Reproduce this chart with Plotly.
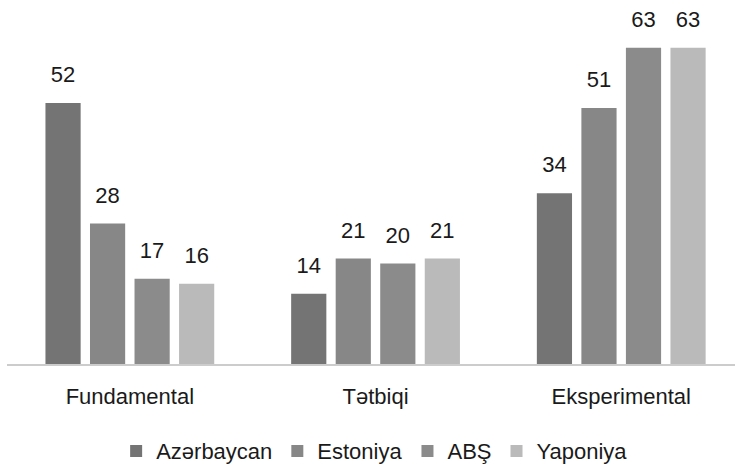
import plotly.graph_objects as go

categories = ["Fundamental", "Tətbiqi", "Eksperimental"]
series_names = ["Azərbaycan", "Estoniya", "ABŞ", "Yaponiya"]
azerbaycan = [52, 14, 34]
estoniya = [28, 21, 51]
abs_vals = [17, 20, 63]
yaponiya = [16, 21, 63]
series_values = [azerbaycan, estoniya, abs_vals, yaponiya]
colors = ["#747474", "#878787", "#8b8b8b", "#bababa"]

FONT = "Liberation Sans, Arial, sans-serif"
TXT = "#1a1a1a"

fig = go.Figure()
for i, (name, vals, col) in enumerate(zip(series_names, series_values, colors)):
    fig.add_trace(go.Bar(
        x=categories, y=vals, name=name, marker=dict(color=col, line=dict(width=0)),
        offsetgroup=str(i), alignmentgroup="a",
    ))
for i, (name, vals) in enumerate(zip(series_names, series_values)):
    fig.add_trace(go.Scatter(
        x=categories, y=vals, mode="markers+text", text=[str(v) for v in vals],
        textposition="top center", textfont=dict(family=FONT, size=22, color=TXT),
        marker=dict(size=23, opacity=0), offsetgroup=str(i), alignmentgroup="b",
        showlegend=False, hoverinfo="skip", cliponaxis=False,
    ))

fig.update_layout(
    width=735, height=476,
    margin=dict(l=7, r=0, t=10, b=112),
    paper_bgcolor="white", plot_bgcolor="white",
    barmode="group", bargap=0.275, bargroupgap=0.21,
    scattermode="group", scattergap=0.275,
    font=dict(family=FONT, size=22, color=TXT),
    xaxis=dict(
        type="category", range=[-0.5, 2.463], showgrid=False,
        showline=True, linecolor="#cccccc", linewidth=2,
        ticks="outside", ticklen=12, tickcolor="rgba(0,0,0,0)",
        tickfont=dict(family=FONT, size=22, color=TXT),
    ),
    yaxis=dict(range=[0, 70.5], visible=False, showgrid=False),
    legend=dict(
        orientation="h", x=0.505, xanchor="center", y=-0.246, yanchor="middle",
        font=dict(family=FONT, size=22, color=TXT), traceorder="normal",
    ),
)

fig.write_html("out.html")
